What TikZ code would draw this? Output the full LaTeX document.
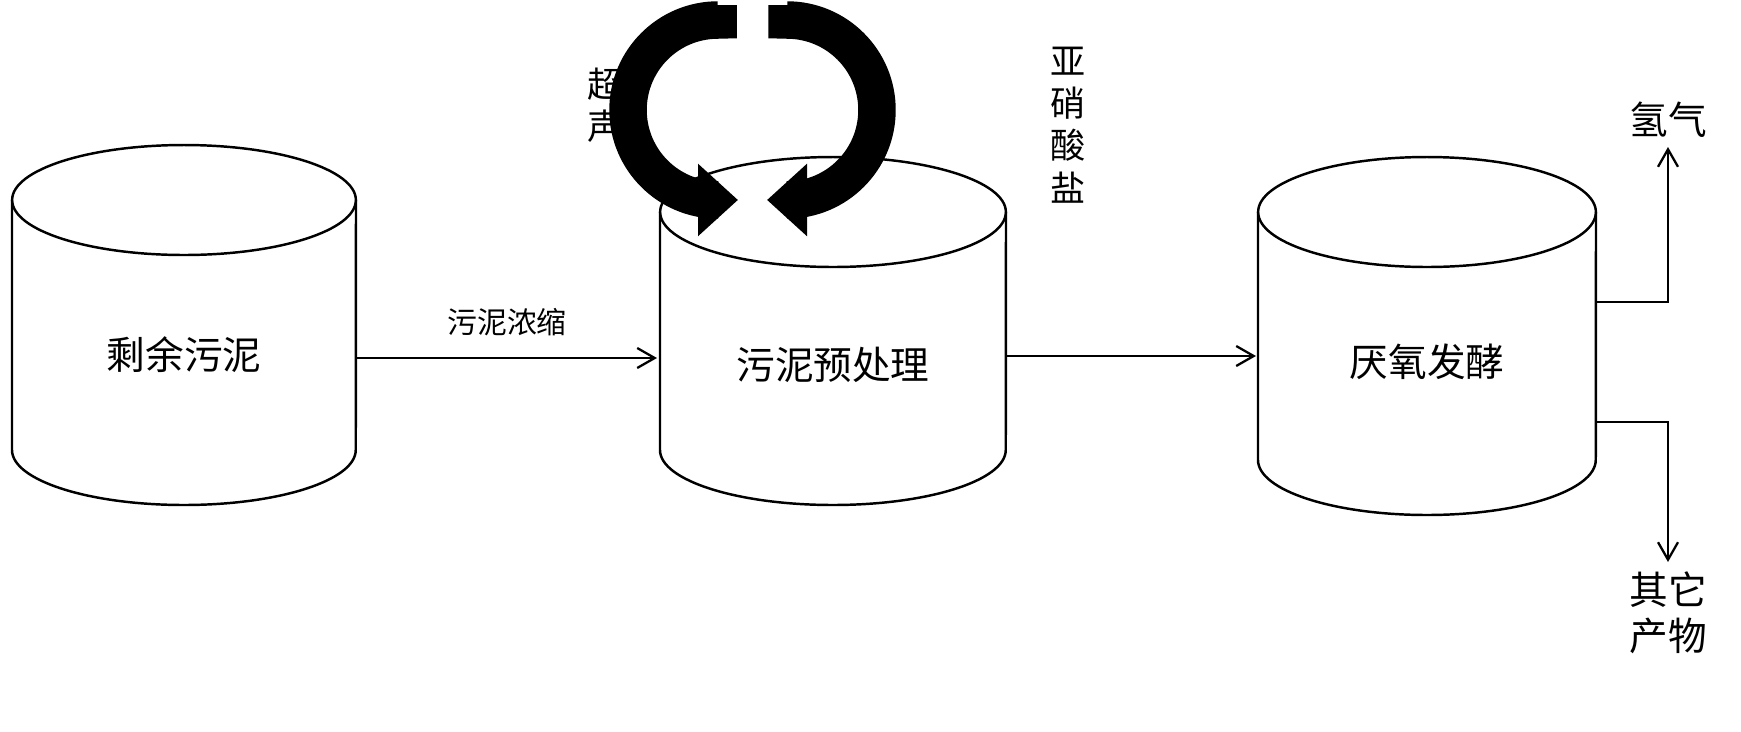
\documentclass[tikz,border=0pt]{standalone}
\usepackage{fontspec}
\setmainfont{Noto Sans CJK SC}
\usetikzlibrary{positioning, arrows.meta, calc}

% one cylinder: left x, right x, top axis y, bottom axis y (pixels)
\newcommand{\tank}[4]{%
  \pgfmathsetmacro{\tankrx}{(#2-#1)*0.01}%
  \draw[tankline] ({(#1+#2)/2},#3) ellipse [x radius=\tankrx cm, y radius=1.1cm];
  \draw[tankline] (#1,#3) -- (#1,#4) arc [start angle=180, end angle=360, x radius=\tankrx cm, y radius=1.1cm] -- (#2,#3);
}

\begin{document}
\begin{tikzpicture}[
        x=0.02cm, y=-0.02cm,
        tankline/.style={line width=1.4pt},
        label/.style={font=\fontsize{17}{20}\selectfont, inner sep=1pt},
        body/.style={font=\fontsize{22}{26}\selectfont},
        arrow/.style={-{Straight Barb[length=0.35cm,width=0.4cm]}, line width=1.3pt},
        twist/.style={line width=0.75cm, -{Triangle[length=0.8cm,width=1.4cm]}}
      ]
    \useasboundingbox (0,0) rectangle (1741,731);

    \tank{12}{356}{200}{450}
    \tank{660}{1006}{212}{450}
    \tank{1258}{1596}{212}{460}

    \node[body] (sludge) at (184,355) {剩余污泥};
    \node[body] (pretreat) at (833,365) {污泥预处理};
    \node[body] (ferment) at (1427,362) {厌氧发酵};

    \coordinate (tankA) at (357,358);
    \coordinate (tankB) at (657,358);
    \coordinate (tankBout) at (1006,356);
    \coordinate (tankC) at (1256,356);
    \coordinate (gasout) at (1596,302);
    \coordinate (gasup) at (1668,302);
    \coordinate (othout) at (1596,422);
    \coordinate (othdown) at (1668,422);

    \draw[arrow] (tankA) -- (tankB);
    \node[label, above=0.4cm of $(tankA)!0.5!(tankB)$] (thicken) {污泥浓缩};
    \draw[arrow] (tankBout) -- (tankC);

    \draw[arrow] (gasout) -- (gasup) -- ++(0,-155) coordinate (gastip);
    \node[label, font=\fontsize{22}{26}\selectfont, above=0.15cm of gastip] (hydrogen) {氢气};
    \draw[arrow] (othout) -- (othdown) -- ++(0,140) coordinate (othtip);
    \node[label, font=\fontsize{22}{26}\selectfont, align=center, below=0.15cm of othtip] (others) {其它\\产物};

    % twisting arrows
    \draw[twist] (718,5) -- (718,20) arc [start angle=90, end angle=270, radius=1.8cm] -- ++(20,0);
    \draw[twist] (787,5) -- (787,20) arc [start angle=90, end angle=-90, radius=1.8cm] -- ++(-20,0);
    \node[label, font=\fontsize{20}{24}\selectfont, align=center] (ultra) at (605,105) {超\\声};
    \node[label, font=\fontsize{20}{24}\selectfont, align=center] (nitrite) at (1068,125) {亚\\硝\\酸\\盐};
\end{tikzpicture}
\end{document}
